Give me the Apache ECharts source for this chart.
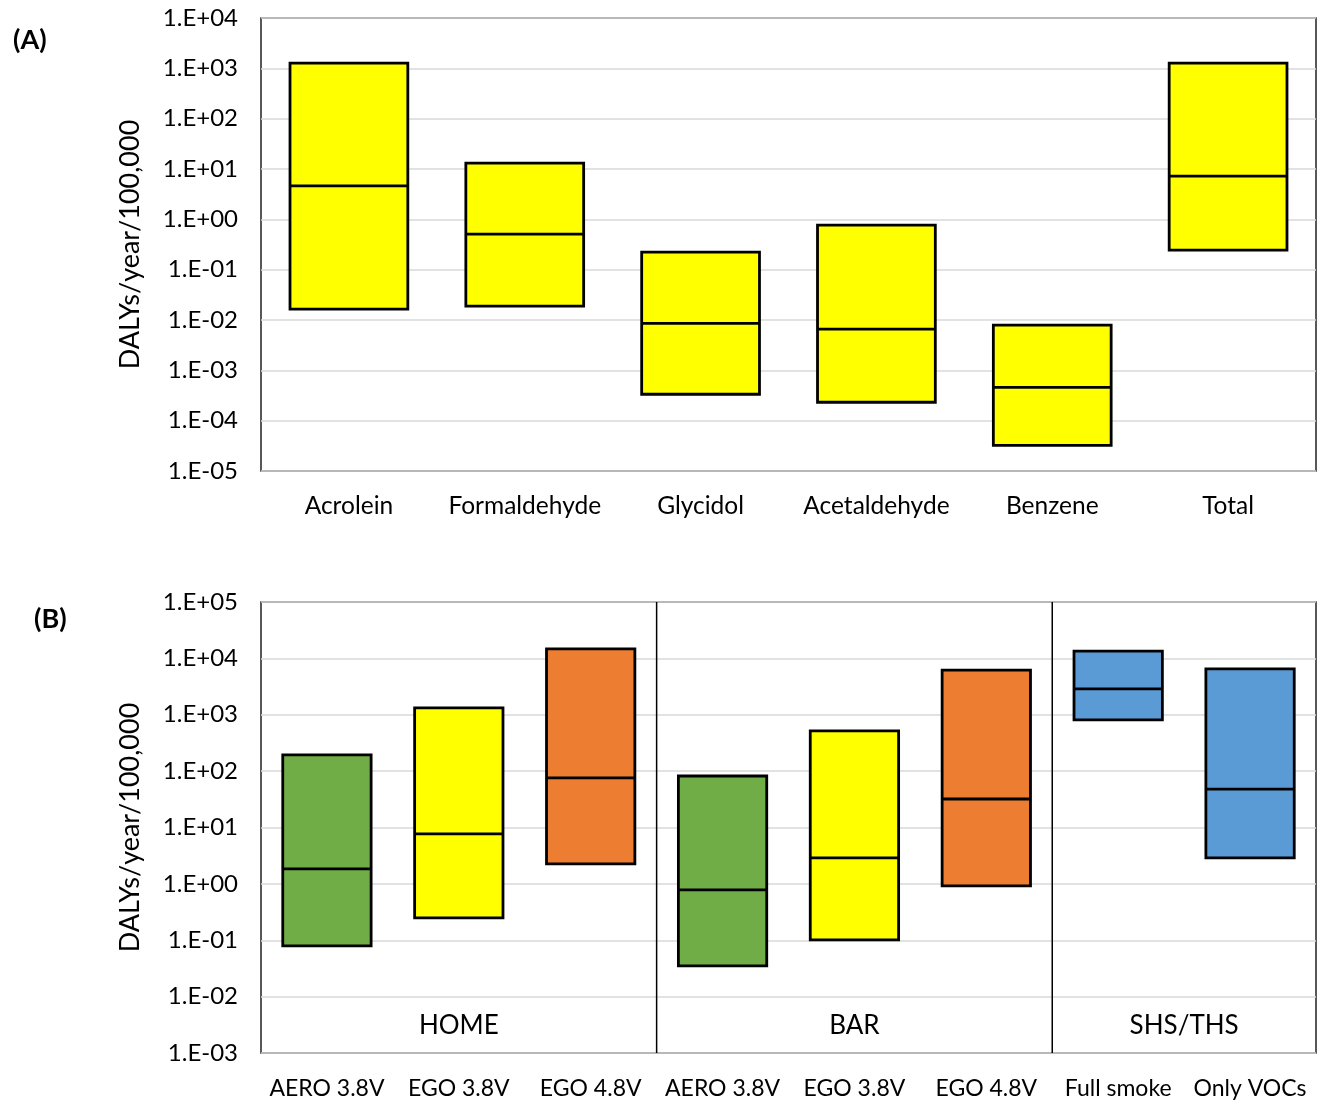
<!DOCTYPE html>
<html>
<head>
<meta charset="utf-8">
<script src="https://cdn.jsdelivr.net/npm/echarts@6/dist/echarts.min.js"></script>
<style>
  html, body { margin: 0; padding: 0; background: #fff; }
  #main { width: 1317px; height: 1101px; }
</style>
</head>
<body>
<div id="main"></div>
<script>
// panel A: per pollutant (min / median / max)
const categoriesA = ['Acrolein', 'Formaldehyde', 'Glycidol', 'Acetaldehyde', 'Benzene', 'Total']
const lowA = [0.0164, 0.0188, 0.000335, 0.000232, 0.0000324, 0.244]
const medianA = [4.6, 0.51, 0.0086, 0.0066, 0.00046, 7.2]
const highA = [1270, 13.1, 0.223, 0.767, 0.00788, 1270]

// panel B: per scenario
const categoriesB = ['AERO 3.8V', 'EGO 3.8V', 'EGO 4.8V', 'AERO 3.8V', 'EGO 3.8V', 'EGO 4.8V', 'Full smoke', 'Only VOCs']
const lowB = [0.0796, 0.25, 2.26, 0.0352, 0.1016, 0.92, 809, 2.89]
const medianB = [1.85, 7.7, 75.7, 0.78, 2.89, 32, 2870, 48]
const highB = [194, 1320, 14700, 82, 516, 6200, 13500, 6500]

// groups in panel B (start / end category index)
const groupNames = ['HOME', 'BAR', 'SHS/THS']
const groupStart = [0, 3, 6]
const groupEnd = [3, 6, 8]

const FONT = 'Lato, "Open Sans", sans-serif'
const deviceColors = {
  'AERO 3.8V': '#70AD47',
  'EGO 3.8V': '#FFFF00',
  'EGO 4.8V': '#ED7D31'
}
const smokeColor = '#5B9BD5'

function expLabel(v) {
  const e = Math.round(Math.log10(v))
  const s = String(Math.abs(e)).padStart(2, '0')
  return '1.E' + (e < 0 ? '-' : '+') + s
}

function boxRenderer(colorOf) {
  return function(params, api) {
    const x = api.value(0)
    const pLow = api.coord([x, api.value(1)])
    const pMed = api.coord([x, api.value(2)])
    const pHigh = api.coord([x, api.value(3)])
    const w = api.size([1, 1])[0] * 0.67
    const style = { fill: colorOf(params.dataIndex), stroke: '#000', lineWidth: 2.8 }
    return {
      type: 'group',
      children: [
        {
          type: 'rect',
          shape: { x: pLow[0] - w / 2, y: pHigh[1], width: w, height: pLow[1] - pHigh[1] },
          style: style
        },
        {
          type: 'line',
          shape: { x1: pMed[0] - w / 2, y1: pMed[1], x2: pMed[0] + w / 2, y2: pMed[1] },
          style: { stroke: '#000', lineWidth: 2.8 }
        }
      ]
    }
  }
}

const yAxisCommon = {
  type: 'log',
  logBase: 10,
  name: 'DALYs/year/100,000',
  nameLocation: 'middle',
  nameGap: 117,
  nameTextStyle: { fontFamily: FONT, fontSize: 27, color: '#000' },
  axisLine: { show: false },
  axisTick: { show: false },
  axisLabel: { fontFamily: FONT, fontSize: 24, color: '#000', margin: 23, formatter: expLabel },
  splitLine: { lineStyle: { color: '#d9d9d9', width: 1.5 } }
}

const xLabelA = { fontFamily: FONT, fontSize: 24.5, color: '#000', margin: 23, interval: 0 }
const xLabelB = { fontFamily: FONT, fontSize: 23, color: '#000', margin: 24, interval: 0 }

const chart = echarts.init(document.getElementById('main'))
chart.setOption({
  animation: false,
  title: [
    { text: '(A)', left: 8, top: 22, textStyle: { fontFamily: FONT, fontSize: 27, fontWeight: 'bold', color: '#000' } },
    { text: '(B)', left: 29, top: 601, textStyle: { fontFamily: FONT, fontSize: 27, fontWeight: 'bold', color: '#000' } }
  ],
  grid: [
    { left: 261, top: 18, width: 1055, height: 453, show: true, borderColor: '#222', borderWidth: 1.5 },
    { left: 261, top: 602, width: 1055, height: 451, show: true, borderColor: '#222', borderWidth: 1.5 }
  ],
  xAxis: [
    { type: 'category', gridIndex: 0, data: categoriesA, axisLine: { show: false }, axisTick: { show: false }, axisLabel: xLabelA },
    { type: 'category', gridIndex: 1, data: categoriesB, axisLine: { show: false }, axisTick: { show: false }, axisLabel: xLabelB },
    { type: 'value', gridIndex: 1, min: 0, max: categoriesB.length, show: false }
  ],
  yAxis: [
    Object.assign({}, yAxisCommon, { gridIndex: 0, min: 1e-5, max: 1e4, splitNumber: 9 }),
    Object.assign({}, yAxisCommon, { gridIndex: 1, min: 1e-3, max: 1e5, splitNumber: 8 })
  ],
  series: [
    {
      type: 'custom',
      xAxisIndex: 0,
      yAxisIndex: 0,
      renderItem: boxRenderer(() => '#FFFF00'),
      encode: { x: 0, y: [1, 2, 3] },
      data: categoriesA.map((c, i) => [i, lowA[i], medianA[i], highA[i]])
    },
    {
      type: 'custom',
      xAxisIndex: 1,
      yAxisIndex: 1,
      renderItem: boxRenderer(i => deviceColors[categoriesB[i]] || smokeColor),
      encode: { x: 0, y: [1, 2, 3] },
      data: categoriesB.map((c, i) => [i, lowB[i], medianB[i], highB[i]])
    },
    {
      type: 'custom',
      xAxisIndex: 2,
      yAxisIndex: 1,
      silent: true,
      renderItem: function(params, api) {
        const cs = params.coordSys
        const x0 = api.coord([api.value(0), 1])[0]
        const x1 = api.coord([api.value(1), 1])[0]
        const children = [{
          type: 'text',
          style: {
            text: groupNames[params.dataIndex],
            x: (x0 + x1) / 2,
            y: cs.y + cs.height - 27,
            align: 'center',
            verticalAlign: 'middle',
            fontFamily: FONT,
            fontSize: 26,
            fill: '#000'
          }
        }]
        if (api.value(1) < categoriesB.length) {
          children.push({
            type: 'line',
            shape: { x1: x1, y1: cs.y, x2: x1, y2: cs.y + cs.height },
            style: { stroke: '#000', lineWidth: 1.5 }
          })
        }
        return { type: 'group', children: children }
      },
      encode: { x: [0, 1] },
      data: groupNames.map((g, i) => [groupStart[i], groupEnd[i]])
    }
  ]
})
</script>
</body>
</html>
